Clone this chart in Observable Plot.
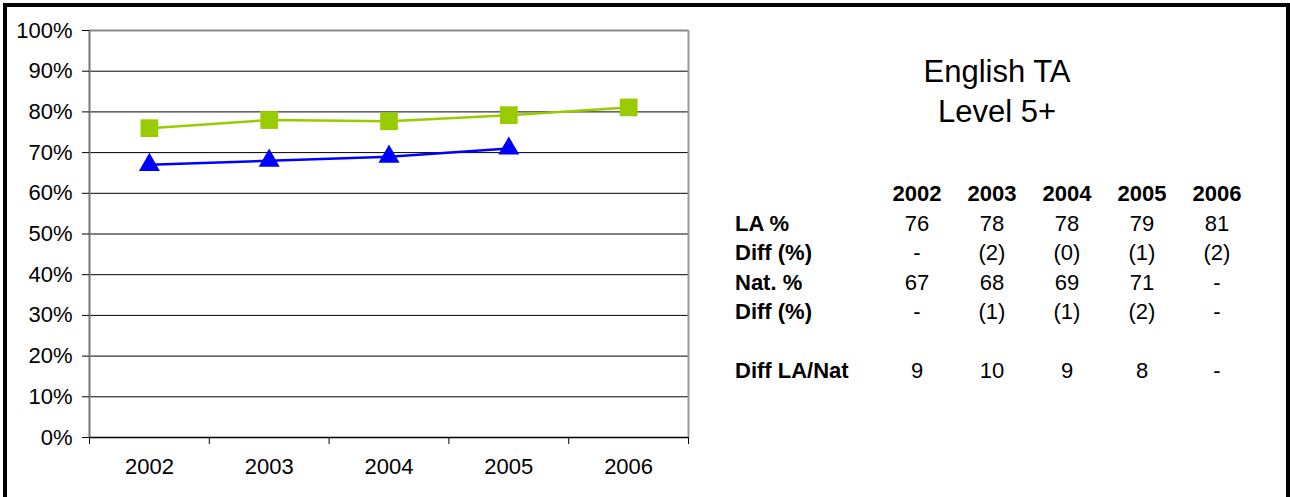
<!DOCTYPE html>
<html>
<head>
<meta charset="utf-8">
<script src="https://cdn.jsdelivr.net/npm/d3@7"></script>
<script src="https://cdn.jsdelivr.net/npm/@observablehq/plot@0.6"></script>
<style>
  html, body { margin: 0; padding: 0; background: #fff; }
  body { width: 1290px; height: 497px; overflow: hidden; position: relative; font-family: "Liberation Sans", Arial, sans-serif; }
  #frame { position: absolute; left: 3px; top: 3px; width: 1287px; height: 600px; box-sizing: border-box; border: 4px solid #000; }
  #chart { position: absolute; left: 0; top: 0; }
  #title { position: absolute; left: 797px; top: 52px; width: 400px; text-align: center; font-size: 31px; line-height: 40px; color: #000; }
  #tbl { position: absolute; left: 735px; top: 179px; border-collapse: collapse; font-size: 22px; color: #000; }
  #tbl td { padding: 0; height: 29.5px; line-height: 29.5px; white-space: nowrap; }
  #tbl td.lab { width: 144.5px; font-weight: bold; text-align: left; }
  #tbl td.val { width: 75px; text-align: center; }
  #tbl tr.head td { font-weight: bold; }
</style>
</head>
<body>
<div id="frame"></div>
<div id="chart"></div>
<div id="title">English TA<br>Level 5+</div>
<table id="tbl"></table>
<script>
// ---- data ----
const years = [2002, 2003, 2004, 2005, 2006];
const laValues = [76.0, 78.0, 77.7, 79.2, 81.1];
const natYears = [2002, 2003, 2004, 2005];
const natValues = [67.0, 68.0, 69.0, 71.0];
const yTicks = [0, 10, 20, 30, 40, 50, 60, 70, 80, 90, 100];
const gridValues = [10, 20, 30, 40, 50, 60, 70, 80, 90];
const bandEdges = [2001.5, 2002.5, 2003.5, 2004.5, 2005.5, 2006.5];

const tableHeader = ["", "2002", "2003", "2004", "2005", "2006"];
const tableRowLabels = ["LA %", "Diff (%)", "Nat. %", "Diff (%)", "", "Diff LA/Nat"];
const tableRowCells = [
  ["76", "78", "78", "79", "81"],
  ["-", "(2)", "(0)", "(1)", "(2)"],
  ["67", "68", "69", "71", "-"],
  ["-", "(1)", "(1)", "(2)", "-"],
  ["", "", "", "", ""],
  ["9", "10", "9", "8", "-"]
];

const la = years.map((y, i) => ({year: y, value: laValues[i]}));
const nat = natYears.map((y, i) => ({year: y, value: natValues[i]}));

const chart = Plot.plot({
  width: 700,
  height: 497,
  marginLeft: 89,
  marginRight: 12,
  marginTop: 30,
  marginBottom: 60,
  style: {fontFamily: "'Liberation Sans', Arial, sans-serif", fontSize: "22px", color: "#000", background: "transparent", overflow: "visible"},
  x: {type: "linear", domain: [2001.5, 2006.5]},
  y: {domain: [0, 100]},
  marks: [
    Plot.ruleY(gridValues, {stroke: "#000", strokeWidth: 1}),
    Plot.ruleY([100], {stroke: "#888", strokeWidth: 2}),
    Plot.ruleX([2006.5], {stroke: "#999", strokeWidth: 2}),
    Plot.ruleX([2001.5], {stroke: "#777", strokeWidth: 2}),
    Plot.ruleY([0], {stroke: "#000", strokeWidth: 1.5}),
    Plot.axisY({ticks: yTicks, tickFormat: d => d + "%", tickSize: 7, tickPadding: 10, label: null, strokeWidth: 1}),
    Plot.axisX({ticks: bandEdges, tickFormat: () => "", tickSize: 7, label: null}),
    Plot.axisX({ticks: years, tickFormat: d => String(d), tickSize: 0, tickPadding: 21, label: null}),
    Plot.line(la, {x: "year", y: "value", stroke: "#99CC00", strokeWidth: 2.5}),
    Plot.dot(la, {x: "year", y: "value", symbol: "square", fill: "#99CC00", stroke: "none", r: 10}),
    Plot.line(nat, {x: "year", y: "value", stroke: "#0000FF", strokeWidth: 2.5}),
    Plot.dot(nat, {x: "year", y: "value", symbol: "triangle", fill: "#0000FF", stroke: "none", r: 7.8})
  ]
});
document.getElementById("chart").appendChild(chart);

// ---- data table ----
const tbl = document.getElementById("tbl");
const head = document.createElement("tr");
head.className = "head";
tableHeader.forEach((h, i) => {
  const td = document.createElement("td");
  td.className = i === 0 ? "lab" : "val";
  td.textContent = h;
  head.appendChild(td);
});
tbl.appendChild(head);
tableRowLabels.forEach((lab, r) => {
  const tr = document.createElement("tr");
  const td0 = document.createElement("td");
  td0.className = "lab";
  td0.textContent = lab;
  tr.appendChild(td0);
  tableRowCells[r].forEach(c => {
    const td = document.createElement("td");
    td.className = "val";
    td.textContent = c;
    tr.appendChild(td);
  });
  tbl.appendChild(tr);
});
</script>
</body>
</html>
